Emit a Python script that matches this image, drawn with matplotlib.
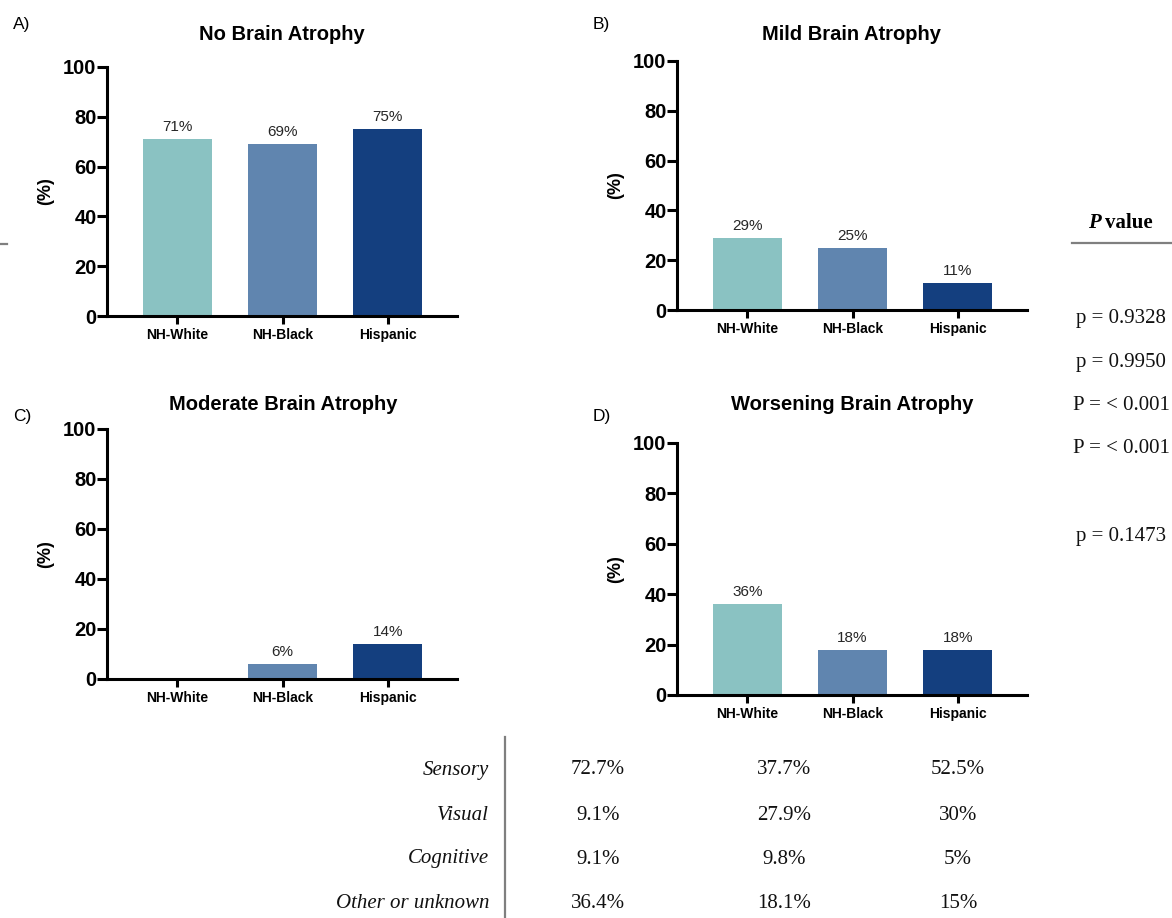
import matplotlib
matplotlib.use("Agg")
import matplotlib.pyplot as plt
from matplotlib.lines import Line2D

# ---- data ----
groups = ["NH-White", "NH-Black", "Hispanic"]
bar_colors = ["#8AC2C2", "#6085AF", "#143F7F"]

panel_letters = ["A)", "B)", "C)", "D)"]
panel_titles = ["No Brain Atrophy", "Mild Brain Atrophy",
                "Moderate Brain Atrophy", "Worsening Brain Atrophy"]
no_atrophy = [71, 69, 75]
mild_atrophy = [29, 25, 11]
moderate_atrophy = [0, 6, 14]
worsening_atrophy = [36, 18, 18]
y_ticks = [0, 20, 40, 60, 80, 100]

p_values = ["p = 0.9328", "p = 0.9950", "P = < 0.001", "P = < 0.001", "p = 0.1473"]

table_rows = ["Sensory", "Visual", "Cognitive", "Other or unknown"]
white_col = ["72.7%", "9.1%", "9.1%", "36.4%"]
black_col = ["37.7%", "27.9%", "9.8%", "18.1%"]
hispanic_col = ["52.5%", "30%", "5%", "15%"]

# ---- layout helpers (pixel -> figure fraction) ----
W, H = 1172, 918
def fx(x):
    return x / W
def fy(y):
    return 1 - y / H

fig = plt.figure(figsize=(W / 100, H / 100), dpi=100)
fig.patch.set_facecolor("white")

SANS = "Liberation Sans"
SERIF = "Liberation Serif"

# (left, top, bottom) in pixels, plus title and letter anchors
panels = [
    dict(box=(107, 67, 316), title=(282, 35), letter=(13, 25)),
    dict(box=(677, 61, 310), title=(851, 35), letter=(593, 25)),
    dict(box=(107, 429, 679), title=(283, 405), letter=(13, 417)),
    dict(box=(677, 443, 695), title=(852, 405), letter=(593, 417)),
]
series = [no_atrophy, mild_atrophy, moderate_atrophy, worsening_atrophy]
AX_W = 350

for geo, vals, title, letter in zip(panels, series, panel_titles, panel_letters):
    left, top, bottom = geo["box"]
    ax = fig.add_axes([fx(left), fy(bottom), AX_W / W, (bottom - top) / H])
    xs = list(range(len(groups)))
    ax.bar(xs, vals, width=0.657, color=bar_colors, zorder=2)
    for x, v in zip(xs, vals):
        if v > 0:
            ax.annotate(f"{v}%", (x, v), xytext=(0, 3.5), textcoords="offset points",
                        ha="center", va="bottom", fontsize=11, family=SANS,
                        color="#262626")
    ax.set_xlim(-0.67, 2.66)
    ax.set_ylim(0, 100)
    ax.set_yticks(y_ticks)
    ax.set_xticks(xs)
    ax.set_xticklabels(groups, fontsize=10, fontweight="bold", family=SANS)
    ax.set_yticklabels([str(t) for t in y_ticks], fontsize=14.5,
                       fontweight="bold", family=SANS)
    for s in ("top", "right"):
        ax.spines[s].set_visible(False)
    for s in ("left", "bottom"):
        ax.spines[s].set_linewidth(2.2)
        ax.spines[s].set_zorder(3)
    ax.tick_params(axis="y", length=7, width=2.2, pad=0.5)
    ax.tick_params(axis="x", length=6, width=2.2, pad=2.5)
    ax.set_ylabel("(%)", fontsize=13, fontweight="bold", family=SANS)
    ax.yaxis.set_label_coords(-0.151, 0.5)
    fig.text(fx(geo["title"][0]), fy(geo["title"][1]), title, ha="center",
             va="center", fontsize=14.5, fontweight="bold", family=SANS)
    fig.text(fx(geo["letter"][0]), fy(geo["letter"][1]), letter, ha="left",
             va="center", fontsize=12.5, family=SANS)

# ---- P value column ----
fig.text(fx(1101), fy(223), "P", ha="right", va="center", fontsize=15,
         family=SERIF, fontweight="bold", fontstyle="italic")
fig.text(fx(1105), fy(223), "value", ha="left", va="center", fontsize=15,
         family=SERIF, fontweight="bold")
fig.add_artist(Line2D([fx(1072), fx(1172)], [fy(243), fy(243)],
                      color="#7f7f7f", lw=1.6))
fig.add_artist(Line2D([fx(0), fx(7)], [fy(244), fy(244)],
                      color="#7f7f7f", lw=1.6))
for yp, txt in zip([318, 362, 405, 449, 537], p_values):
    fig.text(fx(1121), fy(yp), txt, ha="center", va="center", fontsize=15,
             family=SERIF, color="#111111")

# ---- symptom table ----
fig.add_artist(Line2D([fx(505), fx(505)], [fy(737), fy(918)],
                      color="#7f7f7f", lw=1.6))
row_y = [770, 815, 859, 904]
for yr, lab, a, b, c in zip(row_y, table_rows, white_col, black_col, hispanic_col):
    fig.text(fx(489), fy(yr), lab, ha="right", va="center", fontsize=15,
             family=SERIF, fontstyle="italic", color="#111111")
    for xc, val in zip([598, 784, 958], [a, b, c]):
        fig.text(fx(xc), fy(yr), val, ha="center", va="center", fontsize=15,
                 family=SERIF, color="#111111")

fig.savefig("out.png", dpi=100, facecolor="white")
